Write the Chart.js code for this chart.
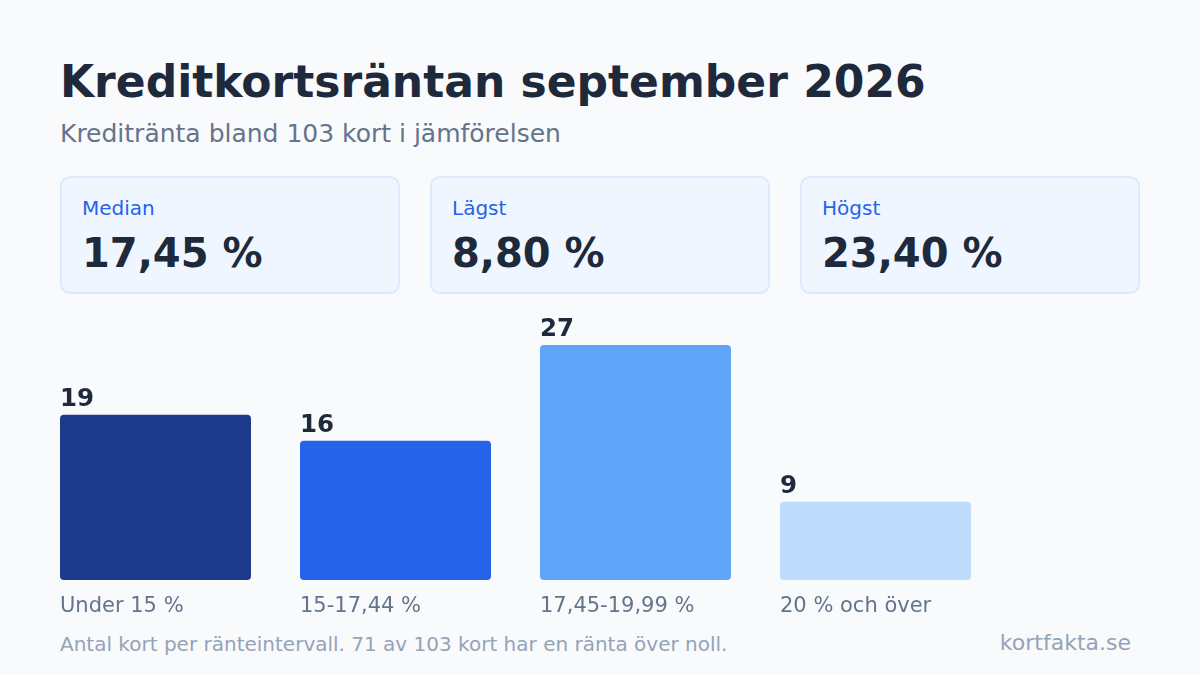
<!DOCTYPE html>
<html lang="sv">
<head>
<meta charset="utf-8">
<title>Kreditkortsräntan september 2026</title>
<script src="https://cdn.jsdelivr.net/npm/chart.js@4/dist/chart.umd.min.js"></script>
<style>
  html, body { margin: 0; padding: 0; }
  body {
    width: 1200px; height: 675px; position: relative; overflow: hidden;
    background: #f8fafc; font-family: "DejaVu Sans", sans-serif; color: #1e293b;
  }
  h1 { position: absolute; left: 60px; top: 55px; margin: 0; font-size: 44px; font-weight: bold; line-height: 54px; color: #1e293b; }
  .sub { position: absolute; left: 60px; top: 119px; font-size: 25px; line-height: 30px; color: #64748b; }
  .card {
    position: absolute; top: 176px; width: 340px; height: 118px; box-sizing: border-box;
    background: #eff6ff; border: 2px solid #dbeafe; border-radius: 10px;
  }
  .card .lbl { position: absolute; left: 20px; top: 18px; font-size: 20px; line-height: 24px; color: #2563eb; }
  .card .val { position: absolute; left: 20px; top: 50px; font-size: 40px; line-height: 50px; font-weight: bold; color: #1e293b; }
  #wrap { position: absolute; left: 0; top: 300px; width: 1200px; height: 330px; }
  .foot { position: absolute; left: 60px; top: 632px; font-size: 20px; line-height: 24px; color: #94a3b8; }
  .brand { position: absolute; right: 69px; top: 630px; font-size: 22px; line-height: 26px; color: #94a3b8; }
</style>
</head>
<body>
<h1>Kreditkortsräntan september 2026</h1>
<div class="sub">Kreditränta bland 103 kort i jämförelsen</div>
<div id="cards"></div>
<div id="wrap"><canvas id="bars"></canvas></div>
<div class="foot">Antal kort per ränteintervall. 71 av 103 kort har en ränta över noll.</div>
<div class="brand">kortfakta.se</div>
<script>
// Data
const categories = ['Under 15 %', '15-17,44 %', '17,45-19,99 %', '20 % och över'];
const cardCounts = [19, 16, 27, 9];
const barColors = ['#1e3a8a', '#2563eb', '#60a5fa', '#bfdbfe'];
const statLabels = ['Median', 'Lägst', 'Högst'];
const statValues = ['17,45 %', '8,80 %', '23,40 %'];

// Stat cards
const cardsEl = document.getElementById('cards');
statLabels.forEach((label, i) => {
    const card = document.createElement('div');
    card.className = 'card';
    card.style.left = (60 + i * 370) + 'px';
    card.innerHTML = '<div class="lbl">' + label + '</div><div class="val">' + statValues[i] + '</div>';
    cardsEl.appendChild(card);
});

// Value labels above bars and category labels below, left aligned to each bar
const barLabels = {
    id: 'barLabels',
    afterDatasetsDraw(chart) {
        const ctx = chart.ctx;
        const meta = chart.getDatasetMeta(0);
        const bottom = chart.scales.y.getPixelForValue(0);
        ctx.save();
        ctx.textAlign = 'left';
        ctx.textBaseline = 'alphabetic';
        meta.data.forEach((bar, i) => {
            const left = bar.x - bar.width / 2;
            ctx.fillStyle = '#1e293b';
            ctx.font = 'bold 24.5px "DejaVu Sans"';
            ctx.fillText(String(cardCounts[i]), left, bar.y - 9);
            ctx.fillStyle = '#64748b';
            ctx.font = '21px "DejaVu Sans"';
            ctx.fillText(categories[i], left, bottom + 32);
        });
        ctx.restore();
    }
};

const ctx = document.getElementById('bars').getContext('2d');
const barChart = new Chart(ctx, {
    type: 'bar',
    data: {
        labels: categories,
        datasets: [{
            data: cardCounts,
            backgroundColor: barColors,
            borderRadius: 4,
            borderSkipped: false,
            categoryPercentage: 1,
            barPercentage: 191 / 240
        }]
    },
    options: {
        responsive: true,
        maintainAspectRatio: false,
        animation: false,
        layout: { padding: { left: 35.5, right: 204.5, top: 19, bottom: 50 } },
        plugins: { legend: { display: false }, tooltip: { enabled: false } },
        scales: {
            x: { display: false },
            y: { display: false, min: 0, max: 30 }
        }
    },
    plugins: [barLabels]
});
</script>
</body>
</html>
